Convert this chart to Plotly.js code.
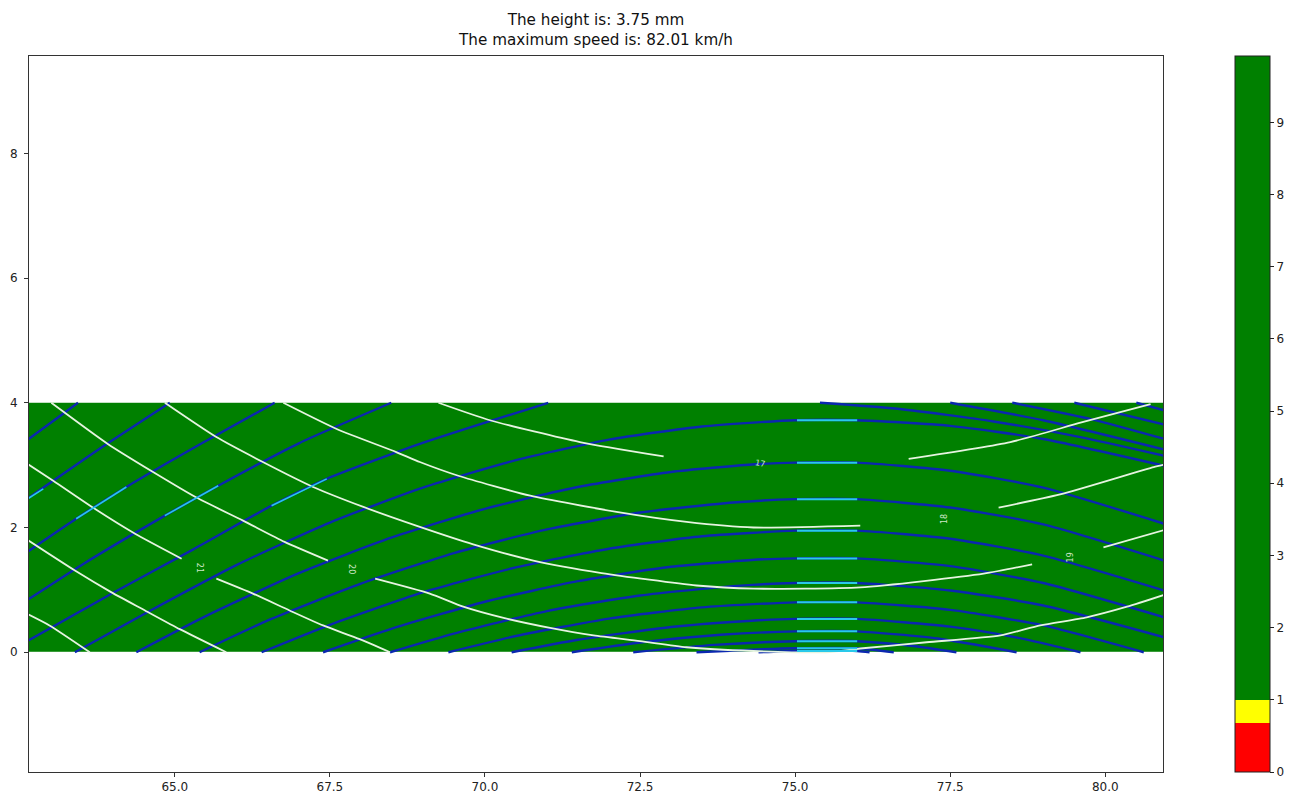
<!DOCTYPE html>
<html><head><meta charset="utf-8">
<script src="https://cdn.plot.ly/plotly-3.0.1.min.js"></script>
<style>html,body{margin:0;padding:0;background:#fff;}#chart{width:1290px;height:796px;}</style>
</head><body><div id="chart"></div>
<script>
// ---- text ----
const titleLines = ["The height is: 3.75 mm", "The maximum speed is: 82.01 km/h"];

// ---- filled speed field (all values lie in the green band) ----
const fieldX = [62.0, 71.5, 81.5];
const fieldY = [0, 2, 4];
const fieldZ = [[5.2, 5.6], [5.4, 5.8]];
const colorLevels = [0, 0.68, 1.0, 9.92];
const colorNames = ['#ff0000', '#ffff00', '#008000'];
const cbTicks = [0, 1, 2, 3, 4, 5, 6, 7, 8, 9];

// ---- blue stream lines (arcs through the middle) ----
const arcA1X = [63.39, 64.5, 66.0, 67.5, 69.0, 70.5, 72.0, 73.5, 75.0, 76.0, 77.5, 79.0, 80.95];
const arcA1Y = [0, 0.61, 1.40, 2.08, 2.64, 3.08, 3.41, 3.62, 3.72, 3.72, 3.63, 3.42, 2.99];
const arcA2X = [64.38, 65.5, 67.0, 68.5, 70.0, 71.5, 73.0, 74.3, 75.0, 76.0, 77.5, 79.0, 80.95];
const arcA2Y = [0, 0.58, 1.27, 1.84, 2.30, 2.65, 2.89, 3.01, 3.04, 3.04, 2.91, 2.64, 2.06];
const arcA3X = [65.40, 66.5, 68.0, 69.5, 71.0, 72.5, 74.0, 75.0, 76.0, 77.5, 79.0, 80.95];
const arcA3Y = [0, 0.51, 1.10, 1.59, 1.97, 2.24, 2.40, 2.455, 2.455, 2.32, 2.05, 1.47];
const arcA4X = [66.40, 67.5, 69.0, 70.5, 72.0, 73.5, 75.0, 76.0, 77.5, 79.0, 80.95];
const arcA4Y = [0, 0.44, 0.96, 1.36, 1.66, 1.86, 1.95, 1.95, 1.82, 1.55, 0.99];
const arcA5X = [67.39, 68.5, 70.0, 71.5, 73.0, 74.3, 75.0, 76.0, 77.5, 79.0, 80.95];
const arcA5Y = [0, 0.38, 0.81, 1.14, 1.37, 1.48, 1.505, 1.505, 1.38, 1.11, 0.56];
const arcA6X = [68.47, 69.5, 71.0, 72.5, 74.0, 75.0, 76.0, 77.5, 79.0, 80.95];
const arcA6Y = [0, 0.30, 0.66, 0.91, 1.06, 1.11, 1.11, 0.99, 0.75, 0.24];
const arcA7X = [69.41, 70.5, 72.0, 73.5, 75.0, 76.0, 77.5, 79.0, 80.62];
const arcA7Y = [0, 0.26, 0.54, 0.72, 0.80, 0.80, 0.68, 0.43, 0];
const arcA8X = [70.43, 71.5, 73.0, 74.3, 75.0, 76.0, 77.5, 78.6, 79.6];
const arcA8Y = [0, 0.20, 0.405, 0.505, 0.535, 0.535, 0.41, 0.23, 0];
const arcA9X = [71.40, 72.5, 73.8, 75.0, 76.0, 77.3, 78.57];
const arcA9Y = [0, 0.157, 0.28, 0.335, 0.335, 0.22, 0];
const arcA10X = [72.39, 73.7, 75.0, 76.0, 76.9, 77.6];
const arcA10Y = [0, 0.118, 0.177, 0.177, 0.10, 0];
const arcA11X = [73.41, 74.4, 75.0, 76.0, 76.59];
const arcA11Y = [0, 0.045, 0.064, 0.064, 0];
const arcA12X = [74.41, 75.0, 76.0, 76.2];
const arcA12Y = [0, 0.02, 0.02, 0];

// ---- blue stream lines leaving through the top (left) ----
const upL1X = [62.55, 63.44];                     const upL1Y = [3.35, 4.0];
const upL2X = [62.55, 63.8, 64.92];               const upL2Y = [2.41, 3.27, 4.0];
const upL3X = [62.55, 63.41, 64.22, 65.4, 66.61]; const upL3Y = [1.56, 2.14, 2.65, 3.33, 4.0];
const upL4X = [62.55, 63.5, 64.84, 65.70, 67.0, 68.49];        const upL4Y = [0.79, 1.40, 2.19, 2.67, 3.35, 4.0];
const upL5X = [62.55, 64.0, 65.3, 66.56, 67.45, 68.95, 71.02]; const upL5Y = [0.14, 0.95, 1.65, 2.35, 2.78, 3.34, 4.0];
// ---- blue stream lines entering through the top (right) ----
const upR1X = [75.40, 76.69, 78.2, 79.6, 80.95]; const upR1Y = [4.0, 3.90, 3.70, 3.45, 3.15];
const upR2X = [77.5, 79.0, 80.95];              const upR2Y = [4.0, 3.72, 3.25];
const upR3X = [78.5, 79.8, 80.95];              const upR3Y = [4.0, 3.73, 3.42];
const upR4X = [79.5, 80.95];                    const upR4Y = [4.0, 3.65];
const upR5X = [80.5, 80.95];                    const upR5Y = [4.0, 3.88];

// ---- cyan (fast) pieces of the stream lines ----
const cyanMidX = [75.03, 76.0];
const cyanMidY = [3.72, 3.04, 2.455, 1.95, 1.505, 1.11, 0.80, 0.535, 0.335, 0.177, 0.064, 0.02];
const cyanL1X = [62.55, 62.88]; const cyanL1Y = [2.41, 2.62];
const cyanL2X = [63.41, 64.22]; const cyanL2Y = [2.14, 2.65];
const cyanL3X = [64.84, 65.70]; const cyanL3Y = [2.19, 2.67];
const cyanL4X = [66.56, 67.45]; const cyanL4Y = [2.35, 2.78];

// ---- white contour lines (gaps where the labels sit) ----
const c17aX = [69.25, 70.08, 71.53, 72.88];  const c17aY = [4.0, 3.72, 3.37, 3.14];
const c17bX = [76.83, 78.47, 79.6, 80.73];   const c17bY = [3.10, 3.37, 3.68, 3.98];
const c18aX = [66.75, 67.61, 68.57, 68.95, 69.57, 70.73, 72.12, 73.25, 74.33, 76.05];
const c18aY = [4.0, 3.58, 3.21, 3.05, 2.83, 2.51, 2.25, 2.09, 2.00, 2.03];
const c18bX = [78.28, 79.27, 80.78, 80.95];  const c18bY = [2.32, 2.53, 2.97, 3.01];
const c19aX = [64.84, 65.67, 66.42, 67.23, 68.04, 68.95, 69.81, 70.78, 71.88, 73.41, 74.33, 76.05, 78.04, 78.82];
const c19aY = [4.0, 3.45, 3.05, 2.65, 2.33, 2.01, 1.73, 1.47, 1.27, 1.07, 1.02, 1.04, 1.26, 1.41];
const c19bX = [79.97, 80.95];                const c19bY = [1.68, 1.96];
const c20aX = [63.01, 63.92, 64.65, 65.35, 66.10, 66.77, 67.47];
const c20aY = [4.0, 3.34, 2.89, 2.48, 2.11, 1.77, 1.47];
const c20bX = [68.23, 69.11, 69.65, 70.30, 71.05, 71.75, 72.50, 73.25, 74.33, 75.5, 76.05, 77.12, 78.31, 78.95, 79.7, 80.35, 80.95];
const c20bY = [1.18, 0.94, 0.73, 0.55, 0.39, 0.27, 0.18, 0.08, 0.02, 0.0, 0.06, 0.16, 0.27, 0.43, 0.56, 0.73, 0.92];
const c21aX = [62.55, 63.04, 63.71, 64.36, 65.11]; const c21aY = [3.07, 2.75, 2.30, 1.90, 1.50];
const c21bX = [65.67, 66.26, 66.85, 67.39, 67.98, 68.47]; const c21bY = [1.18, 0.94, 0.67, 0.43, 0.21, 0.0];
const c22X = [62.55, 63.39, 63.98, 64.52, 65.08, 65.83]; const c22Y = [1.85, 1.31, 0.96, 0.67, 0.37, 0.0];
const c23X = [62.55, 62.98, 63.63]; const c23Y = [0.65, 0.43, 0.0];

const labelText = ['21', '20', '17', '18', '19'];
const labelX = [65.40, 67.85, 74.44, 77.42, 79.43];
const labelY = [1.36, 1.34, 3.02, 2.14, 1.52];
const labelAngle = [90, 90, 10, -90, -90];

// ---- build traces ----
const BLUE = '#0b27b0', WHITE = '#e6f4e0', CYAN = '#29c9ea';
const lo = colorLevels[0], hi = colorLevels[colorLevels.length - 1];
const cscale = [];
for (let i = 0; i < colorNames.length; i++) {
  cscale.push([(colorLevels[i] - lo) / (hi - lo), colorNames[i]]);
  cscale.push([(colorLevels[i + 1] - lo) / (hi - lo), colorNames[i]]);
}
const traces = [{
  type: 'heatmap', x: fieldX, y: fieldY, z: fieldZ, zmin: lo, zmax: hi,
  colorscale: cscale, zsmooth: false, hoverinfo: 'skip',
  colorbar: {x: 1.0635, xanchor: 'left', y: 0.5, yanchor: 'middle', len: 1, lenmode: 'fraction',
    thickness: 35, thicknessmode: 'pixels', xpad: 0, ypad: 0, outlinewidth: 1, outlinecolor: '#222',
    tickvals: cbTicks, ticks: 'outside', ticklen: 4, tickcolor: '#222',
    tickfont: {family: 'DejaVu Sans', size: 12, color: '#222'}}
}];
function line(x, y, color, width) {
  traces.push({type: 'scatter', mode: 'lines', x: x, y: y, hoverinfo: 'skip',
    line: {color: color, width: width, shape: 'spline', smoothing: 0.6}});
}
[[arcA1X, arcA1Y], [arcA2X, arcA2Y], [arcA3X, arcA3Y], [arcA4X, arcA4Y], [arcA5X, arcA5Y], [arcA6X, arcA6Y],
 [arcA7X, arcA7Y], [arcA8X, arcA8Y], [arcA9X, arcA9Y], [arcA10X, arcA10Y], [arcA11X, arcA11Y], [arcA12X, arcA12Y],
 [upL1X, upL1Y], [upL2X, upL2Y], [upL3X, upL3Y], [upL4X, upL4Y], [upL5X, upL5Y],
 [upR1X, upR1Y], [upR2X, upR2Y], [upR3X, upR3Y], [upR4X, upR4Y], [upR5X, upR5Y]
].forEach(p => line(p[0], p[1], BLUE, 2.4));
[[c17aX, c17aY], [c17bX, c17bY], [c18aX, c18aY], [c18bX, c18bY], [c19aX, c19aY], [c19bX, c19bY],
 [c20aX, c20aY], [c20bX, c20bY], [c21aX, c21aY], [c21bX, c21bY], [c22X, c22Y], [c23X, c23Y]
].forEach(p => line(p[0], p[1], WHITE, 1.8));
cyanMidY.forEach(v => line(cyanMidX, [v, v], CYAN, 2));
[[cyanL1X, cyanL1Y], [cyanL2X, cyanL2Y], [cyanL3X, cyanL3Y], [cyanL4X, cyanL4Y]].forEach(p => line(p[0], p[1], CYAN, 1.6));

const annotations = labelText.map((t, i) => ({
  x: labelX[i], y: labelY[i], xref: 'x', yref: 'y', text: t, showarrow: false,
  textangle: labelAngle[i], font: {family: 'DejaVu Sans', size: 8, color: '#cfe8c8'}
}));

const axisCommon = {showgrid: false, zeroline: false, showline: true, mirror: true, linecolor: '#333', linewidth: 1,
  ticks: 'outside', ticklen: 4, tickcolor: '#333', tickfont: {family: 'DejaVu Sans', size: 12, color: '#222'}};
const layout = {
  width: 1290, height: 796, paper_bgcolor: '#fff', plot_bgcolor: '#fff', showlegend: false,
  margin: {l: 29, r: 127, t: 56, b: 24, pad: 0, autoexpand: false},
  title: {text: titleLines.join('<br>'), x: 0.5, xref: 'paper', xanchor: 'center', y: 0.968, yref: 'container', yanchor: 'top',
    font: {family: 'DejaVu Sans', size: 15.2, color: '#111'}},
  xaxis: Object.assign({range: [62.65, 80.93], tick0: 0, dtick: 2.5, tickformat: '.1f', automargin: false}, axisCommon),
  yaxis: Object.assign({range: [-1.92, 9.56], tick0: 0, dtick: 2, automargin: false, ticklabelstandoff: 4}, axisCommon),
  annotations: annotations
};
Plotly.newPlot('chart', traces, layout, {displayModeBar: false, staticPlot: true});
</script></body></html>
